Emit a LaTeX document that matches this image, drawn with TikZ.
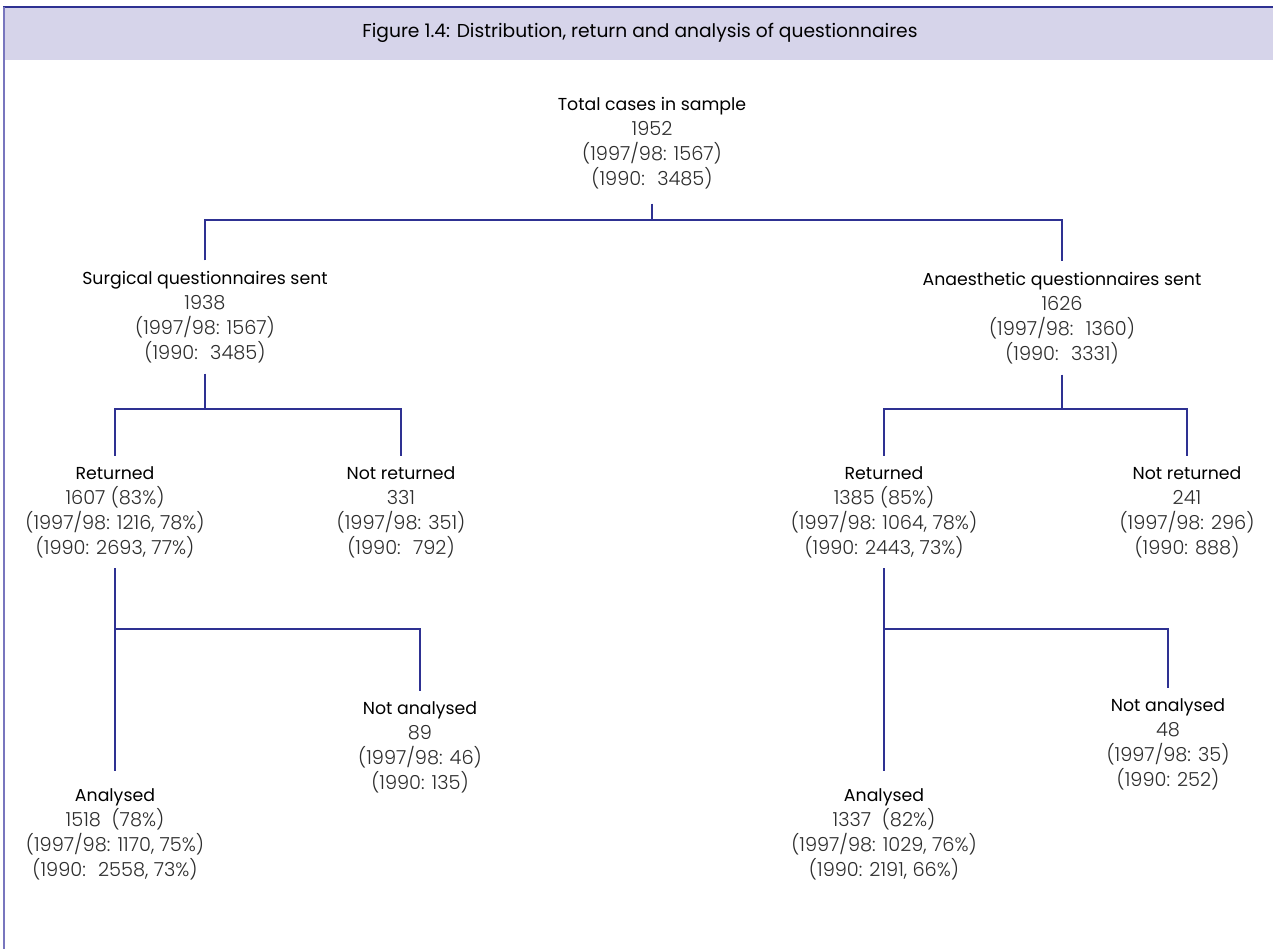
\documentclass[tikz,border=0pt]{standalone}
\usepackage{fontspec}
\setmainfont{Poppins}
\newfontfamily\numfont{Poppins Light}
\usepackage{xcolor}
\usetikzlibrary{positioning}
\definecolor{treeblue}{RGB}{46,49,146}
\definecolor{headfill}{RGB}{214,212,234}
\definecolor{sideline}{RGB}{120,118,190}
\definecolor{numgray}{RGB}{45,45,45}
\newcommand{\lbl}[1]{{\color{black}\rmfamily\fontsize{13}{18.75}\selectfont #1}}

\begin{document}
\begin{tikzpicture}[x=0.75pt, y=-0.75pt, box/.style={align=center, inner sep=0pt, outer xsep=0pt, outer ysep=8pt, text=numgray, font=\numfont\fontsize{14.5}{18.75}\selectfont}, tree/.style={draw=treeblue, line width=1.5pt}, title/.style={font=\fontsize{14}{16}\selectfont}]
    \useasboundingbox (0,0) rectangle (1273,949);
    \fill[headfill] (4,7) rectangle (1273,60);
    \draw[treeblue, line width=1pt] (3,7) -- (1273,7);
    \draw[sideline, line width=1pt] (4,7) -- (4,949);
    \node[title] (fig) at (640,33) {Figure 1.4: Distribution, return and analysis of questionnaires};
    
    \node[box, outer ysep=11pt] (total) at (652,143) {\lbl{Total cases in sample}\\1952\\(1997/98: 1567)\\(1990:~ 3485)};
    
    \node[box] (surg) at (205,317) {\lbl{Surgical questionnaires sent}\\1938\\(1997/98: 1567)\\(1990:~ 3485)};
    \node[box] (anae) at (1062,318) {\lbl{Anaesthetic questionnaires sent}\\1626\\(1997/98:~ 1360)\\(1990:~ 3331)};
    
    \node[box] (sret) at (115,512) {\lbl{Returned}\\1607 (83\%)\\(1997/98: 1216, 78\%)\\(1990: 2693, 77\%)};
    \node[box] (snot) at (401,512) {\lbl{Not returned}\\331\\(1997/98: 351)\\(1990:~ 792)};
    \node[box] (aret) at (884,512) {\lbl{Returned}\\1385 (85\%)\\(1997/98: 1064, 78\%)\\(1990: 2443, 73\%)};
    \node[box] (anot) at (1187,512) {\lbl{Not returned}\\241\\(1997/98: 296)\\(1990: 888)};
    
    \node[box, outer ysep=13pt] (sana) at (115,834) {\lbl{Analysed}\\1518~ (78\%)\\(1997/98: 1170, 75\%)\\(1990:~ 2558, 73\%)};
    \node[box] (snana) at (420,747) {\lbl{Not analysed}\\89\\(1997/98: 46)\\(1990: 135)};
    \node[box, outer ysep=13pt] (aana) at (884,834) {\lbl{Analysed}\\1337~ (82\%)\\(1997/98: 1029, 76\%)\\(1990: 2191, 66\%)};
    \node[box] (anana) at (1168,744) {\lbl{Not analysed}\\48\\(1997/98: 35)\\(1990: 252)};
    
    \coordinate (j0) at (652,220);
    \coordinate (j1) at (205,409);
    \coordinate (j2) at (115,629);
    \coordinate (j3) at (1062,409);
    \coordinate (j4) at (884,629);
    
    \draw[tree] (total.south) -- (j0);
    \draw[tree] (surg.north) |- (j0) -| (anae.north);
    \draw[tree] (surg.south) -- (j1);
    \draw[tree] (sret.north) |- (j1) -| (snot.north);
    \draw[tree] (anae.south) -- (j3);
    \draw[tree] (aret.north) |- (j3) -| (anot.north);
    \draw[tree] (sret.south) -- (sana.north);
    \draw[tree] (j2) -| (snana.north);
    \draw[tree] (aret.south) -- (aana.north);
    \draw[tree] (j4) -| (anana.north);
\end{tikzpicture}
\end{document}
